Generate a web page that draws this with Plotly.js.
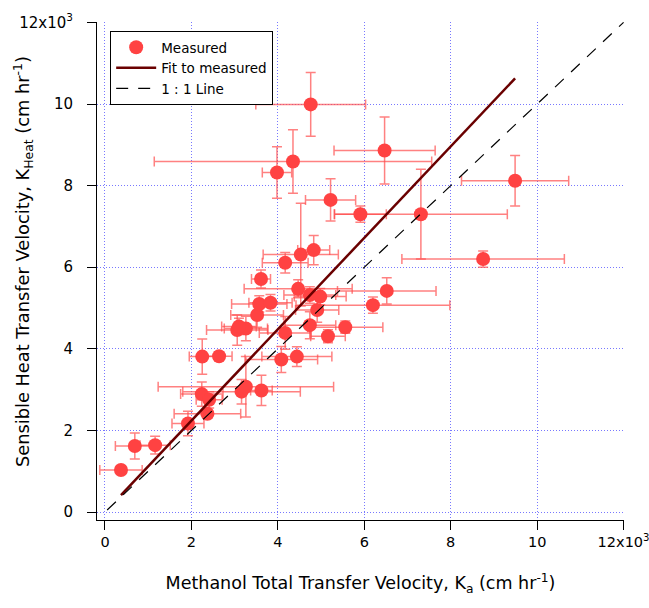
<!DOCTYPE html>
<html>
<head>
<meta charset="utf-8">
<script src="https://cdn.plot.ly/plotly-3.0.1.min.js"></script>
<style>html,body{margin:0;padding:0;background:#fff;}#chart{width:649px;height:608px;}</style>
</head>
<body>
<div id="chart"></div>
<script>
// Measured values (cm hr^-1)
var methanolK = [370, 690, 1160, 1920, 2370, 2240, 2410, 3160, 3260, 3620, 2250, 2640, 4080, 4440, 3060, 3260, 3100, 4170, 4740, 5160, 5560, 3520, 3570, 3830, 4910, 4740, 4980, 6200, 6520, 4470, 3610, 4170, 4530, 4830, 5910, 7310, 5220, 3980, 4350, 6470, 4760, 9490, 8750];
var heatK     = [1030, 1620, 1640, 2170, 2410, 2890, 2750, 2950, 3070, 2980, 3810, 3820, 3740, 3810, 4460, 4500, 4550, 4390, 4580, 4310, 4530, 4830, 5100, 5130, 4950, 5320, 5280, 5070, 5420, 5470, 5710, 6110, 6310, 6420, 7300, 7300, 7650, 8320, 8590, 8860, 9990, 8120, 6200];
var methanolErr = [490, 450, 350, 370, 770, 490, 300, 1360, 2030, 250, 300, 300, 840, 810, 710, 500, 400, 600, 600, 400, 870, 610, 640, 500, 500, 600, 600, 1780, 1140, 1250, 220, 530, 870, 370, 600, 2000, 580, 340, 3210, 1170, 1270, 1240, 1880];
var heatErr     = [50, 320, 220, 300, 100, 300, 200, 300, 740, 370, 430, 100, 320, 240, 370, 300, 200, 400, 330, 160, 150, 300, 200, 200, 300, 200, 200, 200, 320, 220, 220, 250, 1260, 360, 200, 1100, 520, 630, 780, 820, 780, 620, 200];
// Fit to measured (y = 1.12 x over measured range)
var fitX = [370, 9490];
var fitY = [414, 10629];
// 1 : 1 line
var oneX = [50, 12000];
var oneY = [50, 12000];
var tickVals = [0, 2000, 4000, 6000, 8000, 10000, 12000];
var tickText = ['0', '2', '4', '6', '8', '10', '12x10<sup>3</sup>'];
var xTitle = 'Methanol Total Transfer Velocity, K<sub>a</sub> (cm hr<sup>-1</sup>)';
var yTitle = 'Sensible Heat Transfer Velocity, K<sub>Heat</sub> (cm hr<sup>-1</sup>)';

var font = 'DejaVu Sans, Verdana, sans-serif';
var traces = [
  {
    x: methanolK, y: heatK, type: 'scatter', mode: 'markers', name: 'Measured',
    marker: {color: '#ff4242', size: 14, line: {width: 0}},
    error_x: {type: 'data', array: methanolErr, visible: true, color: 'rgba(255,75,75,0.7)', thickness: 1.5, width: 5},
    error_y: {type: 'data', array: heatErr, visible: true, color: 'rgba(255,75,75,0.7)', thickness: 1.5, width: 5}
  },
  {
    x: fitX, y: fitY, type: 'scatter', mode: 'lines', name: 'Fit to measured',
    line: {color: '#6a0000', width: 2.5}
  },
  {
    x: oneX, y: oneY, type: 'scatter', mode: 'lines', name: '1 : 1 Line',
    line: {color: '#000000', width: 1.2, dash: '12px,10px'}
  }
];

var gridColor = 'rgb(120,120,255)';
var layout = {
  width: 649, height: 608,
  margin: {l: 97, r: 25, t: 22, b: 88, pad: 0},
  paper_bgcolor: '#fff', plot_bgcolor: '#fff',
  font: {family: font, size: 14, color: '#000'},
  showlegend: true,
  legend: {
    x: 0.025, y: 0.982, xanchor: 'left', yanchor: 'top',
    bgcolor: '#fff', bordercolor: '#000', borderwidth: 1,
    font: {family: font, size: 13.5, color: '#000'},
    tracegroupgap: 0, itemwidth: 40
  },
  xaxis: {
    range: [-185, 12010], tickvals: tickVals, ticktext: tickText,
    showgrid: true, gridcolor: gridColor, griddash: '1px,2px', gridwidth: 1,
    zeroline: false, showline: true, linecolor: '#000', linewidth: 1,
    ticks: 'outside', ticklen: 9, tickwidth: 1, tickcolor: '#000',
    ticklabeloverflow: 'allow',
    tickfont: {family: font, size: 14.5},
    title: {text: xTitle, font: {family: font, size: 17.5}, standoff: 27},
    automargin: false
  },
  yaxis: {
    range: [-195, 12010], tickvals: tickVals, ticktext: tickText,
    showgrid: true, gridcolor: gridColor, griddash: '1px,2px', gridwidth: 1,
    zeroline: false, showline: true, linecolor: '#000', linewidth: 1,
    ticks: 'outside', ticklen: 9, tickwidth: 1, tickcolor: '#000',
    ticklabelstandoff: 11, ticklabeloverflow: 'allow',
    tickfont: {family: font, size: 15},
    automargin: false
  },
  annotations: [
    {text: yTitle, xref: 'paper', yref: 'paper', x: -0.1404, y: 0.518,
     xanchor: 'center', yanchor: 'middle', textangle: -90, showarrow: false,
     font: {family: font, size: 17.8, color: '#000'}}
  ]
};
Plotly.newPlot('chart', traces, layout, {displayModeBar: false, staticPlot: true});
</script>
</body>
</html>
